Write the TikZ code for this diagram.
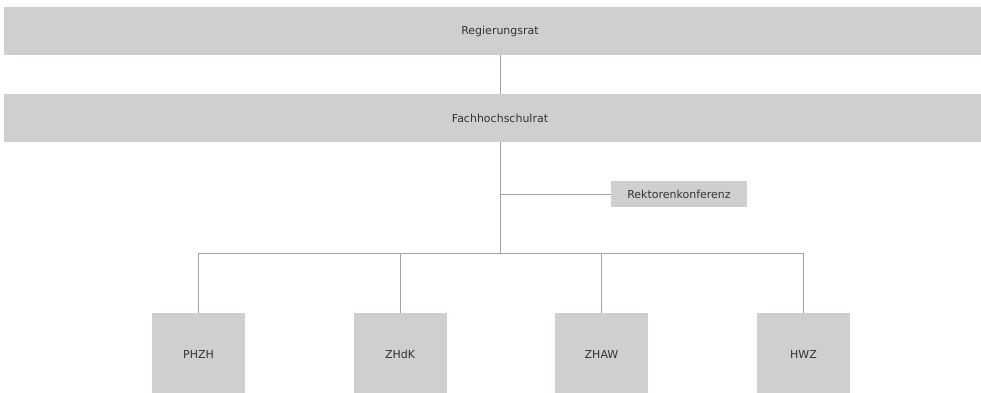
\documentclass[tikz,border=0pt]{standalone}
\usepackage{fontspec}
\setmainfont{DejaVu Sans}
\usepackage{xcolor}
\usetikzlibrary{positioning}
\definecolor{boxgray}{HTML}{D0CECF}
\definecolor{linegray}{HTML}{A3A3A3}
\definecolor{textgray}{HTML}{333333}
\tikzset{
  orgbox/.style={fill=boxgray, text=textgray, font=\fontsize{11}{13}\selectfont, inner sep=0pt},
  bar/.style={orgbox, minimum width=992pt, minimum height=48pt},
  school/.style={orgbox, minimum width=93pt, minimum height=82pt},
  link/.style={draw=linegray, line width=0.8pt}
}

\begin{document}
\begin{tikzpicture}[x=1pt,y=-1pt]
       \useasboundingbox (0,0) rectangle (981,392);
       \clip (0,0) rectangle (981,392);
       % council levels
       \node[bar] (regrat) at (500,31) {Regierungsrat};
       \node[bar] (fhrat) at (500,118) {Fachhochschulrat};
       \node[orgbox, minimum width=136pt, minimum height=26pt] (rektoren) at (679,194) {Rektorenkonferenz};
       % schools
       \node[school] (phzh) at (198.5,354) {PHZH};
       \node[school] (zhdk) at (400,354) {ZHdK};
       \node[school] (zhaw) at (601.5,354) {ZHAW};
       \node[school] (hwz) at (803.5,354) {HWZ};
       \coordinate (bus) at (500,253);
       \coordinate (fork) at (500,194);
       \draw[link] (regrat.south) -- (fhrat.north);
       \draw[link] (fhrat.south) -- (bus);
       \draw[link] (fork) -- (rektoren.west);
       \draw[link] (phzh.north |- bus) -- (hwz.north |- bus);
       \foreach \s in {phzh,zhdk,zhaw,hwz}
         \draw[link] (\s.north |- bus) -- (\s.north);
     \end{tikzpicture}
\end{document}
